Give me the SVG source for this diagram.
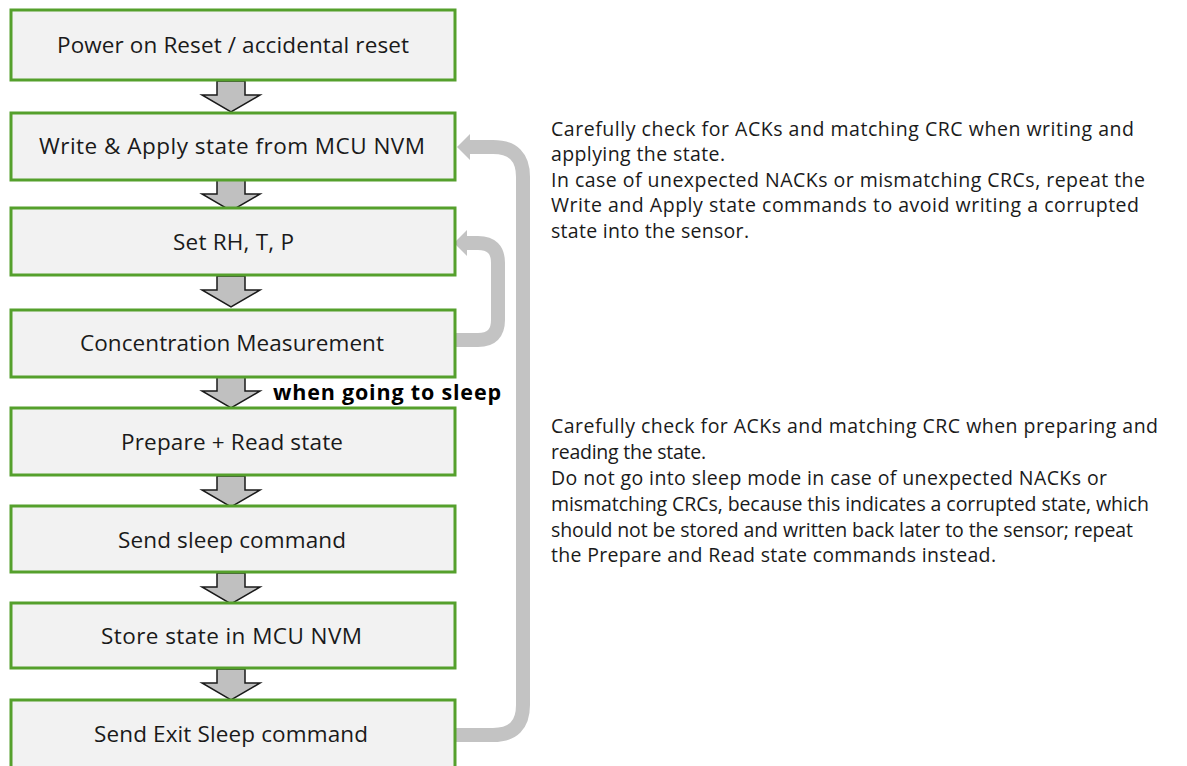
<svg xmlns="http://www.w3.org/2000/svg" width="1187" height="766" viewBox="0 0 1187 766">
<style>
.box{fill:#f2f2f2;stroke:#55a02c;stroke-width:3}
.bt{font-family:"Open Sans","Noto Sans",sans-serif;font-size:22.5px;fill:#1a1a1a;text-anchor:middle;dominant-baseline:central}
.ba{fill:#c0c0c0;stroke:#1a1a1a;stroke-width:1.5;stroke-linejoin:miter}
.fb{fill:none;stroke:#c3c3c3;stroke-width:14}
.ah{fill:#c3c3c3}
.note{font-family:"Open Sans","Noto Sans",sans-serif;font-size:19.5px;fill:#1a1a1a}
.lbl{font-family:"Open Sans","Noto Sans",sans-serif;font-size:21.5px;font-weight:bold;fill:#000}
</style>
<defs>
<polygon id="barrow" class="ba" points="-14,0 14,0 14,14 29,14 0,31 -29,14 -14,14"/>
</defs>
<rect width="1187" height="766" fill="#fff"/>
<g id="connectors">
<use href="#barrow" x="231" y="81"/>
<use href="#barrow" x="231" y="180"/>
<use href="#barrow" x="231" y="276"/>
<use href="#barrow" x="231" y="377"/>
<use href="#barrow" x="231" y="476"/>
<use href="#barrow" x="231" y="573"/>
<use href="#barrow" x="231" y="669"/>
<path class="fb" d="M456,735 H493 Q523,735 523,705 V177 Q523,147 493,147 H466"/>
<polygon class="ah" points="457,147 470,134 470,160"/>
<path class="fb" d="M456,340 H478 Q498,340 498,320 V263 Q498,243 478,243 H464"/>
<polygon class="ah" points="454,243 467,230 467,256"/>
<text class="lbl" x="273" y="400" textLength="228">when going to sleep</text>
</g>
<g id="n1"><rect class="box" x="11" y="10" width="444" height="70"/><text class="bt" x="233" y="44.5" textLength="352">Power on Reset / accidental reset</text></g>
<g id="n2"><rect class="box" x="11" y="113" width="444" height="67"/><text class="bt" x="232" y="145.5" textLength="386">Write &amp; Apply state from MCU NVM</text></g>
<g id="n3"><rect class="box" x="11" y="208" width="444" height="67"/><text class="bt" x="233.5" y="241.5" textLength="121">Set RH, T, P</text></g>
<g id="n4"><rect class="box" x="11" y="310" width="444" height="67"/><text class="bt" x="232" y="342.5" textLength="304">Concentration Measurement</text></g>
<g id="n5"><rect class="box" x="11" y="408" width="444" height="67"/><text class="bt" x="232" y="441.5" textLength="222">Prepare + Read state</text></g>
<g id="n6"><rect class="box" x="11" y="506" width="444" height="66"/><text class="bt" x="232" y="539.5" textLength="228">Send sleep command</text></g>
<g id="n7"><rect class="box" x="11" y="603" width="444" height="65"/><text class="bt" x="231.5" y="635.5" textLength="261">Store state in MCU NVM</text></g>
<g id="n8"><rect class="box" x="11" y="700" width="444" height="70"/><text class="bt" x="231" y="733.5" textLength="274">Send Exit Sleep command</text></g>
<g id="note1" class="note">
<text x="551" y="136" textLength="583">Carefully check for ACKs and matching CRC when writing and</text>
<text x="551" y="161" textLength="174">applying the state.</text>
<text x="551" y="187" textLength="594">In case of unexpected NACKs or mismatching CRCs, repeat the</text>
<text x="551" y="212" textLength="588">Write and Apply state commands to avoid writing a corrupted</text>
<text x="551" y="238" textLength="198">state into the sensor.</text>
</g>
<g id="note2" class="note">
<text x="551" y="433" textLength="607">Carefully check for ACKs and matching CRC when preparing and</text>
<text x="551" y="459" textLength="155">reading the state.</text>
<text x="551" y="485" textLength="556">Do not go into sleep mode in case of unexpected NACKs or</text>
<text x="551" y="511" textLength="598">mismatching CRCs, because this indicates a corrupted state, which</text>
<text x="551" y="537" textLength="582">should not be stored and written back later to the sensor; repeat</text>
<text x="551" y="562" textLength="445">the Prepare and Read state commands instead.</text>
</g>
</svg>
